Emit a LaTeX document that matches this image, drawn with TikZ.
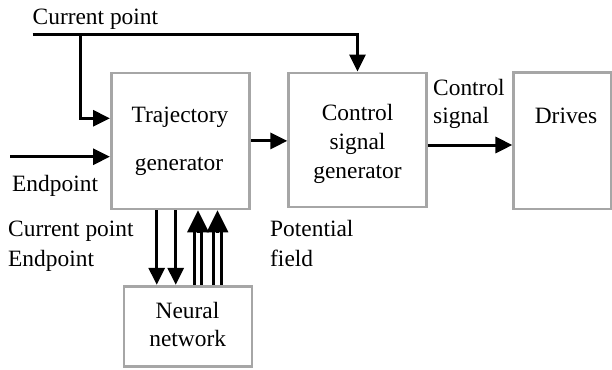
\documentclass[tikz,border=0pt]{standalone}
\usepackage{fontspec}
\setmainfont{Liberation Serif}
\usetikzlibrary{arrows.meta}
\definecolor{boxgray}{HTML}{A6A6A6}
\begin{document}
\begin{tikzpicture}[x=1pt,y=-1pt,
  box/.style={draw=boxgray, line width=2.8pt, inner sep=0pt, rectangle},
  wire/.style={line width=3pt},
  arr/.style={wire, -{Triangle[length=17pt,width=16pt]}},
  bigarr/.style={wire, -{Triangle[length=22pt,width=21pt]}},
  txt/.style={font=\fontsize{23.4}{28}\selectfont, inner sep=0pt, anchor=base},
  ltxt/.style={txt, anchor=base west}]
\useasboundingbox (0,0) rectangle (612,369);

% blocks
\node[box, minimum width=138pt, minimum height=136pt] (traj)   at (180.4,140.9) {};
\node[box, minimum width=137.5pt, minimum height=134pt] (ctrl) at (357.5,140) {};
\node[box, minimum width=97.2pt, minimum height=136.2pt] (drv) at (562.4,140.9) {};
\node[box, minimum width=128pt, minimum height=80pt] (nn)      at (188,326.2) {};

% block texts
\node[txt] (t1) at (180,122) {Trajectory};
\node[txt] (t2) at (179,170) {generator};
\node[txt] (c1) at (357.5,120) {Control};
\node[txt] (c2) at (357.5,149) {signal};
\node[txt] (c3) at (357.5,178) {generator};
\node[txt] (d1) at (566,123) {Drives};
\node[txt] (n1) at (187.5,318.3) {Neural};
\node[txt] (n2) at (187.7,346.7) {network};

% signal labels
\node[ltxt] (lcp)  at (32.5,25)  {Current point};
\node[ltxt] (lep)  at (12,191)   {Endpoint};
\node[ltxt] (lcs1) at (433,95)   {Control};
\node[ltxt] (lcs2) at (433,123.3){signal};
\node[ltxt] (lnc)  at (8,236)    {Current point};
\node[ltxt] (lne)  at (8,266.7)  {Endpoint};
\node[ltxt] (lpf1) at (270,236)  {Potential};
\node[ltxt] (lpf2) at (270,266.5){field};

% helper coordinates
\coordinate (cp)   at (32.5,35);
\coordinate (cpbr) at (80,35);
\coordinate (cplev) at (0,118.3);
\coordinate (ep)   at (10,156.7);
\coordinate (sig)  at (0,145);
\coordinate (dn1)  at (156.7,0);
\coordinate (dn2)  at (175.7,0);
\coordinate (up1)  at (198,0);
\coordinate (up2)  at (217.5,0);
\coordinate (hb)   at (0,232);

% current point feed
\draw[arr] (cp) -| (ctrl.north);
\draw[arr] (cpbr) |- (traj.west |- cplev);
% endpoint feed
\draw[arr] (ep) -- (traj.west |- ep);
% trajectory -> control signal generator
\draw[arr] (traj.east) -- (traj.east -| ctrl.west);
% control signal -> drives
\draw[arr] (ctrl.east |- sig) -- (drv.west |- sig);
% trajectory generator -> neural network
\draw[arr] (traj.south -| dn1) -- (nn.north -| dn1);
\draw[arr] (traj.south -| dn2) -- (nn.north -| dn2);
% neural network -> trajectory generator (double-line arrows)
\foreach \u in {up1,up2}{
  \draw[wire] ([xshift=-3.6pt]nn.north -| \u) -- ([xshift=-3.6pt]hb -| \u);
  \draw[wire] ([xshift=3.6pt]nn.north -| \u) -- ([xshift=3.6pt]hb -| \u);
  \draw[bigarr] (hb -| \u) -- (traj.south -| \u);
}
\end{tikzpicture}
\end{document}
